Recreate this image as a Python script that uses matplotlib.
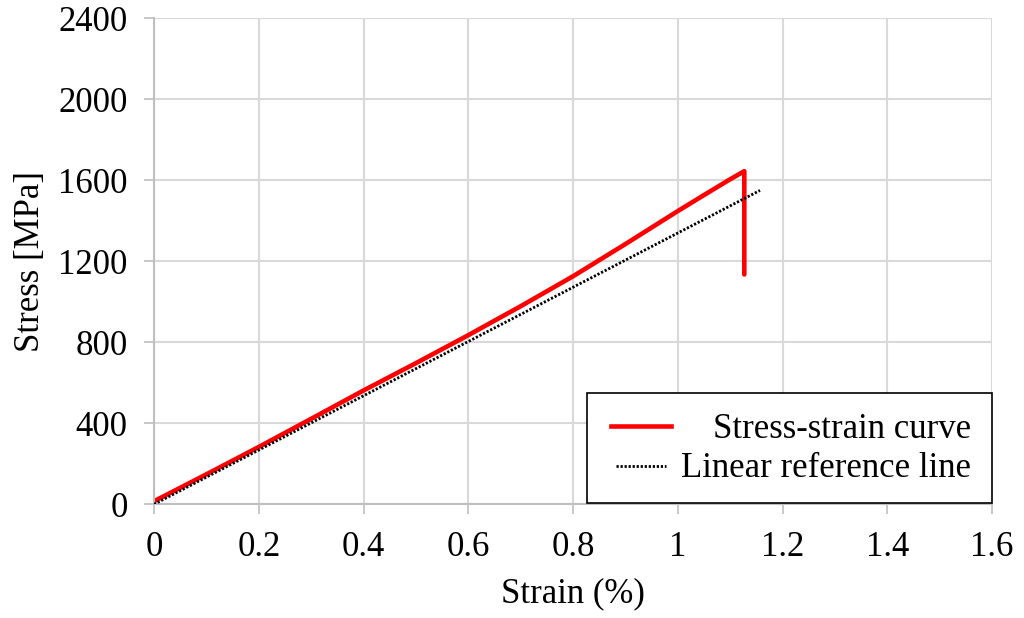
import matplotlib.pyplot as plt
from matplotlib.patches import Rectangle
from matplotlib.lines import Line2D

plt.rcParams['font.family'] = ['Liberation Serif', 'DejaVu Serif']

# stress-strain curve (strain in %, stress in MPa)
strain = [0.0, 0.1, 0.2, 0.3, 0.4, 0.5, 0.6, 0.7, 0.8, 0.9, 1.0, 1.05, 1.1, 1.127, 1.127]
stress = [15, 148, 283, 422, 562, 697, 835, 978, 1126, 1285, 1448, 1527, 1605, 1645, 1135]

# linear reference line
ref_strain = [0.0, 1.157]
ref_stress = [0, 1550]

xticks = [0, 0.2, 0.4, 0.6, 0.8, 1.0, 1.2, 1.4, 1.6]
xticklabels = ['0', '0.2', '0.4', '0.6', '0.8', '1', '1.2', '1.4', '1.6']
yticks = [0, 400, 800, 1200, 1600, 2000, 2400]

fig = plt.figure(figsize=(10.24, 6.18), dpi=100)
ax = fig.add_axes([0.1504, 0.184, 0.8184, 0.7864])

grid_c = '#d9d9d9'
dots = (0, (0.8, 0.65))
ax.plot(ref_strain, ref_stress, color='black', lw=2.0, linestyle=dots,
        dash_capstyle='butt', zorder=3)
ax.plot(strain, stress, color='#ff0000', lw=3.3, solid_joinstyle='round', solid_capstyle='round', zorder=2)

ax.set_xlim(0, 1.6)
ax.set_ylim(0, 2400)
ax.set_xticks(xticks)
ax.set_xticklabels(xticklabels)
ax.set_yticks(yticks)
ax.grid(True, color=grid_c, lw=1.5)
ax.set_axisbelow(True)
for s in ['top', 'right']:
    ax.spines[s].set_visible(False)
for s in ['left', 'bottom']:
    ax.spines[s].set_color('#bfbfbf')
    ax.spines[s].set_linewidth(1.5)
ax.tick_params(direction='out', length=7, width=1.2, color='#bfbfbf',
               labelsize=25, pad=12)

ax.set_xlabel('Strain (%)', fontsize=25, labelpad=10)
ax.set_ylabel('Stress [MPa]', fontsize=25, labelpad=8)

# legend box, text right aligned like the original
ax.add_patch(Rectangle((0.517, 0.002), 0.483, 0.228, transform=ax.transAxes,
                       facecolor='white', edgecolor='black', lw=1.2, zorder=5, clip_on=False))
ax.add_line(Line2D([0.545, 0.617], [0.161, 0.161], transform=ax.transAxes,
                   color='#ff0000', lw=3.3, zorder=6))
ax.add_line(Line2D([0.551, 0.611], [0.079, 0.079], transform=ax.transAxes,
                   color='black', lw=2.0, linestyle=dots, dash_capstyle='butt', zorder=6))
ax.text(0.975, 0.137, 'Stress-strain curve', transform=ax.transAxes,
        ha='right', va='baseline', fontsize=25, zorder=7)
ax.text(0.975, 0.056, 'Linear reference line', transform=ax.transAxes,
        ha='right', va='baseline', fontsize=25, zorder=7)

fig.savefig('out.png', dpi=100)
